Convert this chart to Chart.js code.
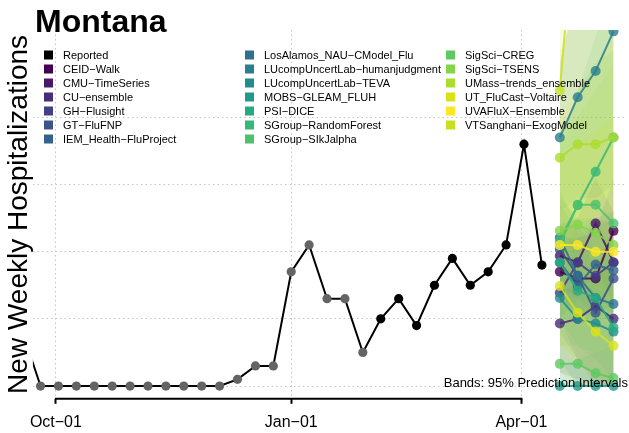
<!DOCTYPE html>
<html>
<head>
<meta charset="utf-8">
<script src="https://cdn.jsdelivr.net/npm/chart.js@4/dist/chart.umd.min.js"></script>
<style>
html,body{margin:0;padding:0;background:#fff;}
#wrap{width:629px;height:433px;position:relative;}
</style>
</head>
<body>
<div id="wrap"><canvas id="c"></canvas></div>
<script>
// ---------- DATA ----------
const chartTitle = 'Montana';
const yAxisTitle = 'New Weekly Hospitalizations';
const bandNote = 'Bands: 95% Prediction Intervals';

const tickDates  = ['2022-10-01', '2023-01-01', '2023-04-01'];
const tickLabels = ['Oct\u221201', 'Jan\u221201', 'Apr\u221201'];
const gridValues = [0, 10, 20, 30, 40];

const reportedDates = [
  '2022-09-18','2022-09-25','2022-10-02','2022-10-09','2022-10-16','2022-10-23',
  '2022-10-30','2022-11-06','2022-11-13','2022-11-20','2022-11-27','2022-12-04',
  '2022-12-11','2022-12-18','2022-12-25','2023-01-01','2023-01-08','2023-01-15',
  '2023-01-22','2023-01-29','2023-02-05','2023-02-12','2023-02-19','2023-02-26',
  '2023-03-05','2023-03-12','2023-03-19','2023-03-26','2023-04-02','2023-04-09'
];
const reportedValues = [
  8, 0, 0, 0, 0, 0,
  0, 0, 0, 0, 0, 0,
  1, 3, 3, 17, 21, 13,
  13, 5, 10, 13, 9, 15,
  19, 15, 17, 21, 36, 18
];
const lastRevisedDate = '2023-01-29';   // points up to this date drawn grey

const forecastDates = ['2023-04-16','2023-04-23','2023-04-30','2023-05-07'];

const modelNames = [
  'CEID\u2212Walk','CMU\u2212TimeSeries','CU\u2212ensemble','GH\u2212Flusight','GT\u2212FluFNP',
  'IEM_Health\u2212FluProject','LosAlamos_NAU\u2212CModel_Flu','LUcompUncertLab\u2212humanjudgment',
  'LUcompUncertLab\u2212TEVA','MOBS\u2212GLEAM_FLUH','PSI\u2212DICE','SGroup\u2212RandomForest',
  'SGroup\u2212SIkJalpha','SigSci\u2212CREG','SigSci\u2212TSENS','UMass\u2212trends_ensemble',
  'UT_FluCast\u2212Voltaire','UVAFluX\u2212Ensemble','VTSanghani\u2212ExogModel'
];
const modelColors = [
  '#440154','#48186a','#472d7b','#424086','#3b528b','#33638d','#2c728e','#2a7f8e',
  '#228c8d','#1f9a8a','#25ab82','#37b878','#4cc26c','#5ec962','#84d44b','#addc30',
  '#d8e219','#fde725','#c9e020'
];
const forecastMedian = [
  [17.0, 16.0, 16.0, 23.1],
  [19.4, 18.4, 24.2, 18.4],
  [ 9.3, 10.0, 11.9, 10.0],
  [13.9, 18.4, 16.4, 18.4],
  [20.4, 16.4, 10.9, 16.0],
  [18.4, 14.9, 18.1, 17.2],
  [22.1, 16.4, 13.1, 12.2],
  [37.0, 43.0, 46.9, 52.8],
  [13.1, 10.0,  9.3,  8.1],
  [ 0.0,  0.0,  0.0,  0.0],
  [18.4, 14.2, 13.1,  8.7],
  [21.6, 26.9, 31.9, 37.0],
  [21.0, 27.0, 27.0, 24.2],
  [ 3.3,  3.3,  1.9,  1.2],
  [23.1, 24.0, 22.8, 21.0],
  [34.0, 36.0, 36.0, 37.0],
  [14.9, 10.9,  8.1,  6.0],
  [21.0, 21.0, 20.0, 20.0],
  [44.0, 75.0, 95.0, 110.0]
];
const forecastLower = [
  [13, 11, 10, 16],
  [15, 13, 18, 12],
  [ 2,  1,  0,  0],
  [10, 13, 11, 12],
  [ 8,  4,  0,  0],
  [14, 10, 12, 11],
  [10,  4,  1,  0],
  [26, 28, 28, 30],
  [ 4,  0,  0,  0],
  [ 0,  0,  0,  0],
  [10,  6,  4,  1],
  [10, 10, 10, 10],
  [ 6,  6,  5,  4],
  [ 0,  0,  0,  0],
  [ 6,  4,  2,  0],
  [18, 16, 14, 12],
  [ 2,  0,  0,  0],
  [ 6,  3,  1,  0],
  [16, 22, 26, 30]
];
const forecastUpper = [
  [22, 22, 23, 31],
  [24, 25, 31, 26],
  [14, 15, 18, 17],
  [19, 24, 23, 26],
  [27, 23, 17, 24],
  [23, 21, 25, 24],
  [29, 24, 20, 19],
  [48, 60, 68, 78],
  [24, 24, 25, 26],
  [ 3,  4,  5,  6],
  [28, 25, 25, 20],
  [36, 44, 52, 60],
  [36, 44, 48, 50],
  [12, 14, 16, 18],
  [36, 40, 44, 48],
  [50, 56, 62, 68],
  [34, 36, 38, 40],
  [40, 44, 48, 52],
  [70,120,150,180]
];

// ---------- HELPERS ----------
const ORIGIN = Date.UTC(2022, 9, 1);
function dayOf(s) {
  const p = s.split('-').map(Number);
  return (Date.UTC(p[0], p[1] - 1, p[2]) - ORIGIN) / 86400000;
}
function rgba(hex, a) {
  const n = parseInt(hex.slice(1), 16);
  return `rgba(${(n >> 16) & 255},${(n >> 8) & 255},${n & 255},${a})`;
}
const tickDays = tickDates.map(dayOf);
const revisedDay = dayOf(lastRevisedDate);
const fDays = forecastDates.map(dayOf);

// ---------- DATASETS ----------
// Chart.js paints the first dataset last (on top), so later models are pushed first.
const datasets = [];
datasets.push({
  label: 'Reported',
  data: reportedDates.map((d, i) => ({x: dayOf(d), y: reportedValues[i]})),
  borderColor: '#000',
  borderWidth: 2,
  pointRadius: 4.6,
  pointBorderWidth: 0,
  pointBackgroundColor: ctx => (ctx.raw && ctx.raw.x <= revisedDay) ? '#646464' : '#000000',
  clip: 0
});
const order = modelNames.map((_, i) => i).reverse();
order.forEach(m => {
  datasets.push({
    label: modelNames[m],
    data: fDays.map((d, i) => ({x: d, y: forecastMedian[m][i]})),
    borderColor: rgba(modelColors[m], 0.85),
    borderWidth: 2,
    pointRadius: 5,
    pointBorderWidth: 0,
    pointBackgroundColor: rgba(modelColors[m], 0.8),
    clip: 0
  });
});
order.forEach(m => {
  datasets.push({
    label: modelNames[m] + ' lower',
    data: fDays.map((d, i) => ({x: d, y: forecastLower[m][i]})),
    borderWidth: 0, pointRadius: 0, fill: false, clip: 0
  });
  datasets.push({
    label: modelNames[m] + ' upper',
    data: fDays.map((d, i) => ({x: d, y: forecastUpper[m][i]})),
    borderWidth: 0, pointRadius: 0,
    fill: '-1',
    backgroundColor: rgba(modelColors[m], 0.13),
    clip: 0
  });
});

// ---------- PLUGINS ----------
const decor = {
  id: 'decor',
  afterDatasetsDraw(chart) {
    const ctx = chart.ctx;
    ctx.save();
    // legend
    const items = [{t: 'Reported', c: '#000000'}].concat(modelNames.map((n, i) => ({t: n, c: modelColors[i]})));
    const colX = [44, 245, 446], y0 = 55, step = 14, perCol = 7;
    ctx.font = '11px "Liberation Sans", Arial, sans-serif';
    ctx.textBaseline = 'middle';
    ctx.textAlign = 'left';
    items.forEach((it, i) => {
      const col = Math.floor(i / perCol), row = i % perCol;
      const x = colX[col], y = y0 + row * step;
      ctx.fillStyle = it.c;
      ctx.fillRect(x, y - 4.5, 9, 9);
      ctx.fillStyle = '#000';
      ctx.fillText(it.t, x + 19, y + 0.5);
    });
    // band note
    ctx.font = '13px "Liberation Sans", Arial, sans-serif';
    ctx.textAlign = 'right';
    ctx.fillText(bandNote, 628, 383);
    ctx.restore();
  },
  afterDraw(chart) {
    const ctx = chart.ctx, ca = chart.chartArea, xs = chart.scales.x;
    ctx.save();
    // x axis line between first and last tick
    ctx.strokeStyle = '#000';
    ctx.lineWidth = 2;
    ctx.beginPath();
    ctx.moveTo(xs.getPixelForValue(tickDays[0]) - 1, ca.bottom);
    ctx.lineTo(xs.getPixelForValue(tickDays[tickDays.length - 1]) + 1, ca.bottom);
    ctx.stroke();
    // title
    ctx.fillStyle = '#000';
    ctx.font = 'bold 32px "Liberation Sans", Arial, sans-serif';
    ctx.textAlign = 'left';
    ctx.textBaseline = 'alphabetic';
    ctx.fillText(chartTitle, 35, 32);
    ctx.restore();
  }
};

Chart.defaults.font.family = '"Liberation Sans", Arial, sans-serif';
Chart.defaults.color = '#000';

new Chart(document.getElementById('c'), {
  type: 'line',
  data: {datasets},
  options: {
    responsive: true,
    maintainAspectRatio: false,
    devicePixelRatio: 1,
    animation: false,
    events: [],
    layout: {padding: {top: 30, right: 0, bottom: -8, left: 0}},
    plugins: {legend: {display: false}, tooltip: {enabled: false}, title: {display: false}},
    elements: {line: {tension: 0}},
    scales: {
      x: {
        type: 'linear',
        min: -9, max: 222.1,
        afterBuildTicks: s => { s.ticks = tickDays.map(v => ({value: v})); },
        ticks: {
          autoSkip: false, maxRotation: 0, padding: 9,
          font: {size: 16},
          callback: v => tickLabels[tickDays.indexOf(v)] ?? ''
        },
        grid: {
          color: '#c4c4c4', lineWidth: 1,
          drawTicks: true, tickLength: 5, tickColor: '#000', tickWidth: 2, tickBorderDash: []
        },
        border: {display: false, dash: [1.5, 3]}
      },
      y: {
        type: 'linear',
        min: -1.9, max: 53,
        afterBuildTicks: s => { s.ticks = gridValues.map(v => ({value: v})); },
        ticks: {display: false},
        grid: {color: '#c4c4c4', lineWidth: 1, drawTicks: false},
        border: {display: false, dash: [1.5, 3]},
        title: {
          display: true, text: yAxisTitle, color: '#000',
          font: {size: 28, lineHeight: 0.96},
          padding: {top: 6, bottom: 0}
        }
      }
    }
  },
  plugins: [decor]
});
</script>
</body>
</html>
